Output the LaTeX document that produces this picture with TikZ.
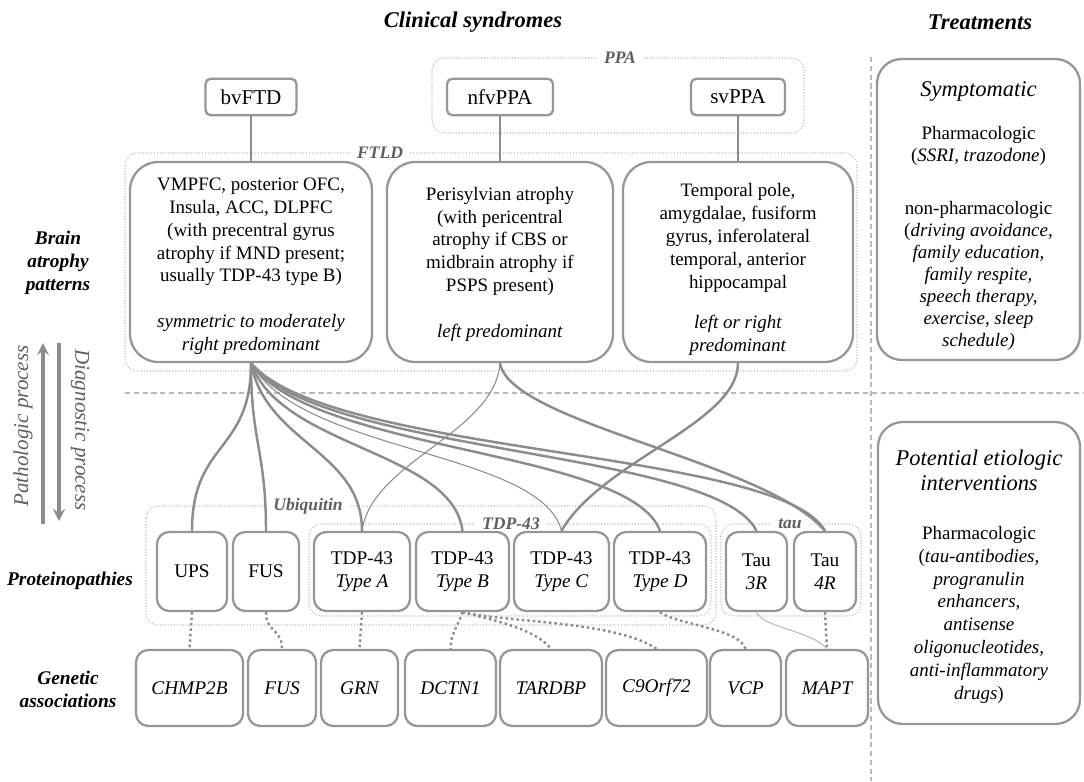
\documentclass[tikz,border=0pt]{standalone}
\usepackage{fontspec}
\setmainfont{Liberation Serif}
\usepackage{tikz}
\usetikzlibrary{arrows}
\definecolor{boxgray}{RGB}{150,150,150}
\definecolor{linkgray}{RGB}{140,140,140}
\definecolor{sepgray}{RGB}{185,185,185}
\definecolor{labgray}{RGB}{95,95,95}
\newcommand{\bigit}[1]{{\fontsize{12.8}{15}\selectfont\itshape #1}}
\tikzstyle{syndrome} = [draw=boxgray,line width=1.3pt,rounded corners=3pt,minimum height=0.73cm,font=\fontsize{12}{14}\selectfont]
\tikzstyle{atrophy} = [draw=boxgray,line width=1.3pt,rounded corners=16pt,minimum height=4cm,align=center,font=\fontsize{10.8}{13}\selectfont]
\tikzstyle{treat} = [draw=boxgray,line width=1.3pt,rounded corners=14pt,align=center,font=\fontsize{10.8}{12.5}\selectfont]
\tikzstyle{protein} = [draw=boxgray,line width=1.3pt,rounded corners=7pt,minimum height=1.58cm,align=center,font=\fontsize{11}{13}\selectfont]
\tikzstyle{gene} = [draw=boxgray,line width=1.3pt,rounded corners=7pt,minimum height=1.52cm,font=\fontsize{11}{13}\selectfont\itshape]
\tikzstyle{group} = [draw=sepgray,densely dotted,line width=0.6pt,rounded corners=7pt]
\tikzstyle{grouplabel} = [fill=white,inner xsep=4pt,inner ysep=1pt,text=labgray,font=\fontsize{10}{12}\selectfont\bfseries\itshape]
\tikzstyle{rowlabel} = [align=center,font=\fontsize{11}{13}\selectfont\bfseries\itshape]
\tikzstyle{header} = [font=\fontsize{12.8}{15}\selectfont\bfseries\itshape]
\tikzstyle{link} = [draw=linkgray,line width=1.4pt]
\tikzstyle{thinlink} = [draw=linkgray,line width=0.6pt]
\tikzstyle{genelink} = [draw=linkgray,line width=1.4pt,dash pattern=on 1.4pt off 1.7pt]
\tikzstyle{arrow} = [draw=linkgray,line width=2pt,->,>=stealth]
\tikzstyle{separator} = [draw=sepgray,line width=0.6pt,dash pattern=on 3pt off 2pt]

\begin{document}
\begin{tikzpicture}[x=0.02cm,y=-0.02cm]
	\def \rowsyn {97}
	\def \rowatr {262}
	\def \rowpro {571.5}
	\def \rowgen {688}
	\useasboundingbox (0,0) rectangle (1084,781);

	\node[header] (hdclin) at (473,22) {Clinical syndromes};
	\node[header] (hdtreat) at (980,22) {Treatments};

	\draw[separator] (125,393) -- (1084,393);
	\draw[separator] (871,57) -- (871,781);

	\draw[group] (432,58) rectangle (804,133);
	\draw[group] (125,153) rectangle (857,371);
	\draw[group] (146,506) rectangle (716,625);
	\draw[group] (309,524) rectangle (711,616);
	\draw[group] (721,524) rectangle (861,616);
	\node[grouplabel] (gppa) at (620,58) {PPA};
	\node[grouplabel] (gftld) at (380,153) {FTLD};
	\node[grouplabel] (gubi) at (308,506) {Ubiquitin};
	\node[grouplabel] (gtdp) at (511,524) {TDP-43};
	\node[grouplabel] (gtau) at (790,524) {tau};

	\begin{scope}
		\node[rowlabel] (lbbrain) at (58,263) {Brain\\atrophy\\patterns};
		\node[rowlabel] (lbprot) at (70,581) {Proteinopathies};
		\node[rowlabel] (lbgen) at (68,689) {Genetic\\associations};

		\coordinate (pathlo) at (43,524);
		\coordinate (pathhi) at (43,343);
		\coordinate (diaghi) at (59,343);
		\coordinate (diaglo) at (59,521);
		\draw[arrow] (pathlo) -- (pathhi);
		\draw[arrow] (diaghi) -- (diaglo);
		\node[rotate=90,text=labgray,font=\fontsize{12}{14}\selectfont\itshape] (lbpath) at (23,426) {Pathologic process};
		\node[rotate=-90,text=labgray,font=\fontsize{12}{14}\selectfont\itshape] (lbdiag) at (80,430) {Diagnostic process};
	\end{scope}

	\begin{scope}
		\node[syndrome,minimum width=1.82cm] (bvftd) at (251,\rowsyn) {bvFTD};
		\node[syndrome,minimum width=2.12cm] (nfvppa) at (500,\rowsyn) {nfvPPA};
		\node[syndrome,minimum width=1.88cm] (svppa) at (738,\rowsyn) {svPPA};

		\node[atrophy,minimum width=4.84cm] (atbv) at (251,\rowatr) {\rule{0pt}{12pt}VMPFC, posterior OFC,\\Insula, ACC, DLPFC\\(with precentral gyrus\\atrophy if MND present;\\usually TDP-43 type B)\\[13pt]\textit{symmetric to moderately}\\\textit{right predominant}};
		\node[atrophy,minimum width=4.52cm] (atnfv) at (500,\rowatr) {\rule{0pt}{10pt}Perisylvian atrophy\\(with pericentral\\atrophy if CBS or\\midbrain atrophy if\\PSPS present)\\[13pt]\textit{left predominant}};
		\node[atrophy,minimum width=4.6cm] (atsv) at (738,\rowatr) {\rule{0pt}{16pt}Temporal pole,\\amygdalae, fusiform\\gyrus, inferolateral\\temporal, anterior\\hippocampal\\[10pt]\textit{left or right}\\\textit{predominant}};

		\draw[link] (bvftd) -- (atbv);
		\draw[link] (nfvppa) -- (atnfv);
		\draw[link] (svppa) -- (atsv);
	\end{scope}

	\begin{scope}
		\node[treat,minimum width=4.06cm,minimum height=6.02cm] (symp) at (978.5,209.5) {\bigit{\rule{0pt}{16pt}Symptomatic}\\[12pt]Pharmacologic\\(\textit{SSRI, trazodone})\\[18pt]non-pharmacologic\\(\textit{driving avoidance,}\\\textit{family education,}\\\textit{family respite,}\\\textit{speech therapy,}\\\textit{exercise, sleep}\\\textit{schedule)}};
		\node[treat,minimum width=4.04cm,minimum height=6.04cm,font=\fontsize{10.8}{13}\selectfont] (etio) at (979,573) {\bigit{\rule{0pt}{13pt}Potential etiologic}\\[1pt]\bigit{interventions}\\[15pt]Pharmacologic\\(\textit{tau-antibodies,}\\\textit{progranulin}\\\textit{enhancers,}\\\textit{antisense}\\\textit{oligonucleotides,}\\\textit{anti-inflammatory}\\\textit{drugs})};
	\end{scope}

	\begin{scope}
		\node[protein,minimum width=1.4cm] (ups) at (192,\rowpro) {UPS};
		\node[protein,minimum width=1.32cm] (fusp) at (266,\rowpro) {FUS};
		\node[protein,minimum width=1.92cm] (tdpa) at (362,\rowpro) {TDP-43\\\textit{Type A}};
		\node[protein,minimum width=1.86cm] (tdpb) at (462.5,\rowpro) {TDP-43\\\textit{Type B}};
		\node[protein,minimum width=1.9cm] (tdpc) at (561.5,\rowpro) {TDP-43\\\textit{Type C}};
		\node[protein,minimum width=1.84cm] (tdpd) at (660,\rowpro) {TDP-43\\\textit{Type D}};
		\node[protein,minimum width=1.22cm] (tauthree) at (756.5,\rowpro) {Tau\\\textit{3R}};
		\node[protein,minimum width=1.24cm] (taufour) at (825,\rowpro) {Tau\\\textit{4R}};

		\node[gene,minimum width=2.14cm] (chmp) at (189.5,\rowgen) {CHMP2B};
		\node[gene,minimum width=1.36cm] (gfus) at (282,\rowgen) {FUS};
		\node[gene,minimum width=1.54cm] (grn) at (359.5,\rowgen) {GRN};
		\node[gene,minimum width=1.82cm] (dctn) at (450.5,\rowgen) {DCTN1};
		\node[gene,minimum width=2.04cm] (tardbp) at (551,\rowgen) {TARDBP};
		\node[gene,minimum width=2.02cm] (cnine) at (656.5,\rowgen) {C9Orf72};
		\node[gene,minimum width=1.42cm] (vcp) at (745.5,\rowgen) {VCP};
		\node[gene,minimum width=1.64cm] (mapt) at (827,\rowgen) {MAPT};
	\end{scope}

	\draw[link] (atbv.south) .. controls +(0,90) and +(0,-90) .. (ups.north);
	\draw[link] (atbv.south) .. controls +(0,80) and +(0,-80) .. (fusp.north);
	\draw[link] (atbv.south) .. controls +(15,80) and +(0,-80) .. (tdpa.north);
	\draw[link] (atbv.south) .. controls +(30,85) and +(-10,-80) .. (tdpb.north);
	\draw[thinlink] (atbv.south) .. controls +(50,90) and +(-20,-80) .. (tdpc.north);
	\draw[link] (atbv.south) .. controls +(60,90) and +(-30,-82) .. (tdpd.north);
	\draw[link] (atbv.south) .. controls +(70,92) and +(-40,-82) .. (tauthree.north);
	\draw[link] (atbv.south) .. controls +(80,93) and +(-45,-82) .. (taufour.north);
	\draw[thinlink] (atnfv.south) .. controls +(-5,70) and +(10,-70) .. (tdpa.north);
	\draw[link] (atnfv.south) .. controls +(10,60) and +(-60,-70) .. (taufour.north);
	\draw[link] (atsv.south) .. controls +(0,60) and +(40,-70) .. (tdpc.north);

	\draw[genelink] (ups.south) -- (chmp.north);
	\draw[genelink] (fusp.south) .. controls +(0,20) and +(0,-20) .. (gfus.north);
	\draw[genelink] (tdpa.south) -- (grn.north);
	\draw[genelink] (tdpb.south) .. controls +(-5,15) and +(0,-15) .. (dctn.north);
	\draw[genelink] (tdpb.south) .. controls +(30,8) and +(-15,-20) .. (tardbp.north);
	\draw[genelink] (tdpb.south) .. controls +(40,10) and +(-40,-28) .. (cnine.north);
	\draw[genelink] (tdpd.south) .. controls +(15,12) and +(-5,-20) .. (vcp.north);
	\draw[genelink] (taufour.south) -- (mapt.north);
	\draw[thinlink,draw=sepgray] (tauthree.south) .. controls +(5,15) and +(-15,-18) .. (mapt.north);
\end{tikzpicture}
\end{document}
